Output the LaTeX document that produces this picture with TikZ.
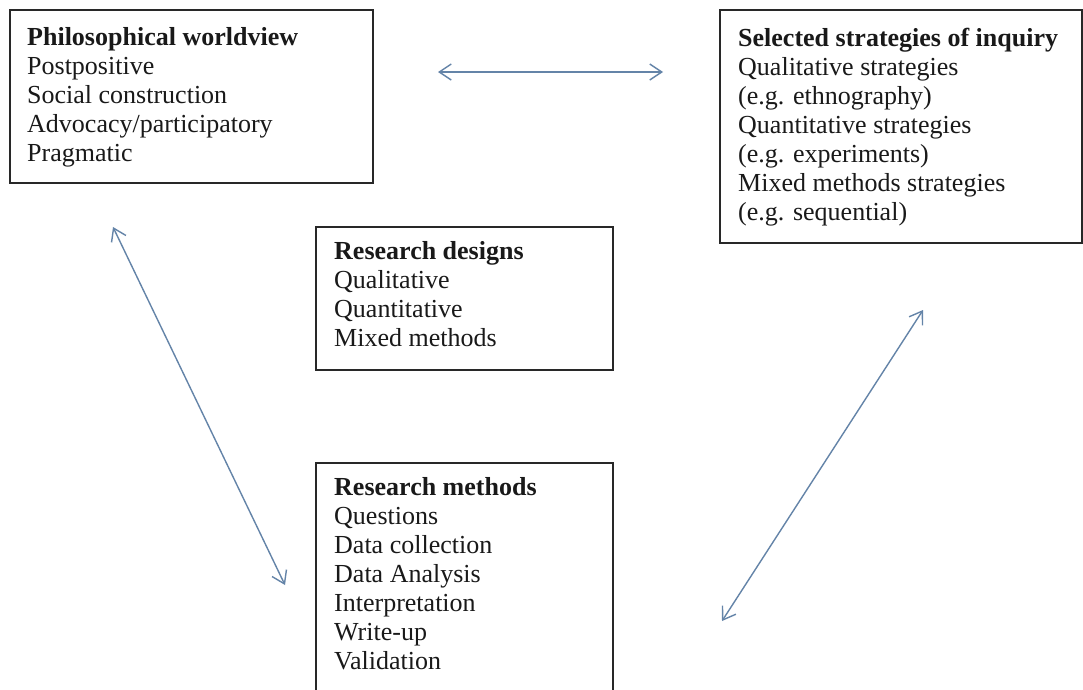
\documentclass[tikz,border=0pt]{standalone}
\usepackage{fontspec}
\setmainfont{Liberation Serif}
\usetikzlibrary{arrows.meta}

\definecolor{framegray}{RGB}{40,40,40}
\definecolor{linkblue}{RGB}{100,132,168}
\definecolor{inkgray}{RGB}{25,25,25}

\tikzset{
  frame/.style={draw=framegray, line width=1.6pt, rectangle, inner sep=0pt, anchor=north west},
  boxtext/.style={anchor=base west, inner sep=0pt, text=inkgray,
    font=\fontsize{26}{29}\selectfont},
  link/.style={draw=linkblue, line width=1.4pt,
    {Straight Barb[length=12pt,width=16pt,line width=1.4pt]}-{Straight Barb[length=12pt,width=16pt,line width=1.4pt]}}
}

\newcommand{\boxlines}[1]{\begin{tabular}[t]{@{}l@{}}#1\end{tabular}}

\begin{document}
\begin{tikzpicture}[x=1pt,y=-1pt]
  \useasboundingbox (0,0) rectangle (1083,689);
  \fill[white] (0,0) rectangle (1083,689);
  \clip (0,0) rectangle (1083,689);

  % boxes
  \node[frame, minimum width=363pt, minimum height=173pt] (world) at (9,9) {};
  \node[frame, minimum width=362pt, minimum height=233pt] (inquiry) at (719,9) {};
  \node[frame, minimum width=297pt, minimum height=143pt] (designs) at (315,226) {};
  \node[frame, minimum width=297pt, minimum height=258pt] (methods) at (315,462) {};

  % box contents
  \node[boxtext] (worldtext) at (27,45) {\boxlines{\textbf{Philosophical worldview}\\
    Postpositive\\ Social construction\\ Advocacy/participatory\\ Pragmatic}};
  \node[boxtext] (inquirytext) at (738,46) {\boxlines{\textbf{Selected strategies of inquiry}\\
    Qualitative strategies\\ (e.g. ethnography)\\ Quantitative strategies\\
    (e.g. experiments)\\ Mixed methods strategies\\ (e.g. sequential)}};
  \node[boxtext] (designstext) at (334,259) {\boxlines{\textbf{Research designs}\\
    Qualitative\\ Quantitative\\ Mixed methods}};
  \node[boxtext] (methodstext) at (334,495) {\boxlines{\textbf{Research methods}\\
    Questions\\ Data collection\\ Data Analysis\\ Interpretation\\ Write-up\\ Validation}};

  % free ends of the two-headed links
  \coordinate (hL) at (438,72);
  \coordinate (hR) at (663,72);
  \coordinate (lTop) at (113,227);
  \coordinate (lBot) at (285,585);
  \coordinate (rBot) at (722,621);
  \coordinate (rTop) at (923,310);

  \draw[link] (hL) -- (hR);
  \draw[link] (lTop) -- (lBot);
  \draw[link] (rBot) -- (rTop);
\end{tikzpicture}
\end{document}
